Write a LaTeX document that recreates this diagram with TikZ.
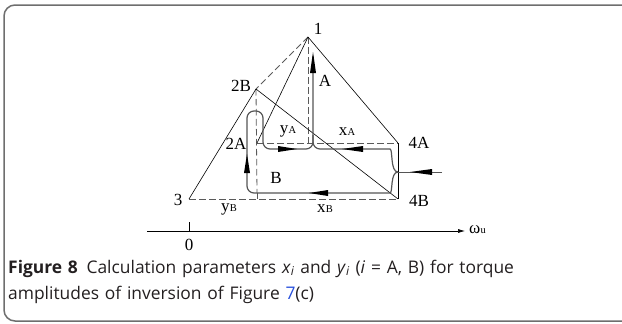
\documentclass[tikz,border=0pt]{standalone}
\usepackage{fontspec}
\setmainfont{Liberation Serif}
\newfontfamily\capfont{Open Sans}
\usetikzlibrary{arrows.meta}
\definecolor{framecol}{RGB}{110,110,110}
\definecolor{loopcol}{RGB}{85,85,85}
\definecolor{dashcol}{RGB}{90,90,90}
\definecolor{capcol}{RGB}{35,31,32}
\definecolor{linkcol}{RGB}{40,80,220}
\tikzset{
  thinline/.style={line width=0.6pt, black},
  dashline/.style={line width=0.8pt, dashcol, dash pattern=on 6.5pt off 3.5pt},
  flowline/.style={line width=1.2pt, loopcol, rounded corners=7pt},
  lbl/.style={inner sep=0pt, font=\fontsize{17}{17}\selectfont},
  sublbl/.style={inner sep=0pt, font=\fontsize{17}{17}\selectfont},
  head/.style={fill=black}
}
\newcommand{\sbs}[2]{#1\kern0.2pt{\fontsize{10.5}{10.5}\selectfont #2}}
\begin{document}
\begin{tikzpicture}[x=1pt,y=-1pt]
\useasboundingbox (0,0) rectangle (622,324);
% frame
\draw[framecol, line width=1.5pt, rounded corners=11pt] (630,5) -- (4,5) -- (4,321) -- (630,321);

% points
\coordinate (p1) at (308,37);
\coordinate (p2B) at (256,89);
\coordinate (p2A) at (257,143);
\coordinate (p3) at (189,199);
\coordinate (p4A) at (398,143);
\coordinate (p4B) at (398,199);
\coordinate (J) at (398,172);
\coordinate (in) at (442,172);
\coordinate (d1) at (308,143);
\coordinate (d2) at (257,199);
\coordinate (d2s) at (257,193);

% dashed lines
\draw[dashline] (p1) -- (p2B);
\draw[dashline] (p1) -- (d1);
\draw[dashline] (p2B) -- (d2s);
\draw[dashline] (p2A) -- (p4A);
\draw[dashline] (p3) -- (p4B);
\draw[thinline, line width=0.8pt, dashcol] (d2s) -- (d2);

% solid lines
\draw[thinline] (p1) -- (p4A);
\draw[thinline] (p1) -- (p2A);
\draw[thinline] (p3) -- (p2B);
\draw[thinline] (p2B) -- (p4B);
\draw[thinline] (p4A) -- (p4B);

% flow paths
\draw[flowline] (J) .. controls (390,172) and (393,193) .. (383,193) -- (247,193) -- (247,111) -- (263,111) -- (263,149) -- (313,149) -- (313,56);
\draw[flowline] (J) .. controls (390,172) and (393,149) .. (383,149) -- (313,149) -- (313,135);
\draw[line width=0.8pt, loopcol] (in) -- (J);

% arrowheads
\fill[head] (313,52) -- (310,73) -- (316,73) -- cycle;
\fill[head] (247,154) -- (244,173) -- (250,173) -- cycle;
\fill[head] (297,149) -- (278,146) -- (278,152) -- cycle;
\fill[head] (342,149) -- (363,146) -- (363,152) -- cycle;
\fill[head] (309,193) -- (328,190) -- (328,196) -- cycle;
\fill[head] (410,172) -- (432,169) -- (432,175) -- cycle;

% labels
\node[lbl] (l1) at (318,29) {1};
\node[lbl] (l2B) at (241,86) {2B};
\node[lbl] (l2A) at (236,144) {2A};
\node[lbl] (l3) at (178,200) {3};
\node[lbl] (l4A) at (419,143) {4A};
\node[lbl] (l4B) at (419,201) {4B};
\node[lbl] (lA) at (325,81) {A};
\node[lbl] (lB) at (276,178) {B};
\node[sublbl] (lyA) at (288,131) {\sbs{y}{A}};
\node[sublbl] (lxA) at (347,132) {\sbs{x}{A}};
\node[sublbl] (lyB) at (229,209) {\sbs{y}{B}};
\node[sublbl] (lxB) at (325,209) {\sbs{x}{B}};

% axis
\coordinate (ax0) at (147,231);
\coordinate (ax1) at (465,231);
\coordinate (tk) at (189,222);
\coordinate (tk0) at (189,231);
\draw[line width=0.6pt, -{Latex[length=7pt,width=4pt]}] (ax0) -- (ax1);
\draw[line width=0.6pt] (tk) -- (tk0);
\node[lbl] (l0) at (189,245) {0};
\node[sublbl, anchor=west] (lw) at (469,230) {\sbs{ω}{u}};

% caption
\node[anchor=base west, inner sep=0pt, text width=612pt, align=left, text=capcol,
      font=\capfont\fontsize{17.4}{26}\selectfont] (cap) at (8,273)
  {\textbf{Figure 8}\hspace{0.5em}Calculation parameters \textit{x}\textsubscript{\textit{i}} and \textit{y}\textsubscript{\textit{i}} (\textit{i} = A, B) for torque\\
   amplitudes of inversion of Figure \textcolor{linkcol}{7}(c)};
\end{tikzpicture}
\end{document}
